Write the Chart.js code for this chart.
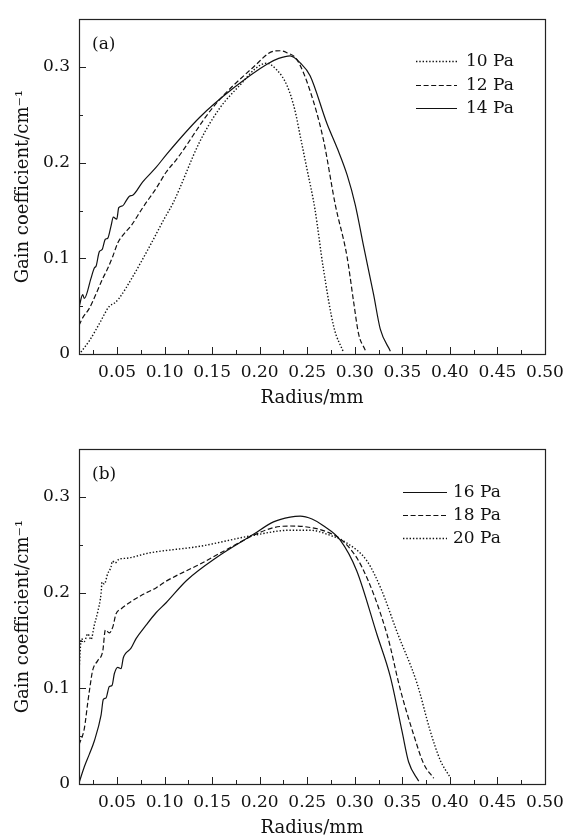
<!DOCTYPE html>
<html><head><meta charset="utf-8">
<script src="https://cdn.jsdelivr.net/npm/chart.js@4"></script>
<style>
html,body{margin:0;padding:0;background:#fff;width:579px;height:839px;overflow:hidden;}
.box{position:absolute;left:0;width:579px;height:410px;}
canvas{display:block;}
</style></head><body>
<div class="box" style="top:0"><canvas id="ca" width="579" height="410"></canvas></div>
<div class="box" style="top:430px"><canvas id="cb" width="579" height="410"></canvas></div>
<script>
// ---- Data ----
const radius10 = [0.012,0.021,0.031,0.042,0.047,0.052,0.066,0.084,0.100,0.109,0.137,0.158,0.181,0.195,0.207,0.218,0.229,0.237,0.243,0.250,0.258,0.267,0.278,0.288];
const gain10   = [0.002,0.014,0.031,0.050,0.053,0.058,0.080,0.112,0.142,0.158,0.222,0.257,0.283,0.298,0.304,0.297,0.280,0.255,0.226,0.192,0.152,0.089,0.028,0.002];

const radius12 = [0.010,0.014,0.021,0.028,0.035,0.040,0.0455,0.0507,0.056,0.0647,0.077,0.091,0.1016,0.113,0.151,0.1935,0.2145,0.222,0.2286,0.239,0.253,0.267,0.2795,0.2918,0.2987,0.304,0.311];
const gain12   = [0.030,0.038,0.048,0.063,0.079,0.089,0.102,0.116,0.124,0.134,0.153,0.173,0.190,0.204,0.258,0.300,0.3165,0.317,0.315,0.308,0.275,0.224,0.156,0.102,0.055,0.021,0.004];

const radius14 = [0.0103,0.0139,0.0156,0.0226,0.0261,0.028,0.0314,0.0342,0.0377,0.0402,0.0437,0.0461,0.0497,0.0518,0.056,0.0595,0.063,0.0665,0.077,0.091,0.1023,0.137,0.1724,0.2076,0.22,0.232,0.243,0.253,0.2707,0.282,0.292,0.3005,0.3093,0.3198,0.3268,0.3374];
const gain14   = [0.050,0.062,0.058,0.079,0.090,0.092,0.107,0.109,0.120,0.121,0.134,0.143,0.141,0.153,0.155,0.160,0.165,0.166,0.180,0.195,0.209,0.2475,0.278,0.303,0.309,0.3117,0.304,0.291,0.241,0.214,0.187,0.156,0.1125,0.062,0.026,0.003];

const radius16 = [0.010,0.0156,0.0208,0.0261,0.0332,0.0356,0.0384,0.0419,0.0447,0.0472,0.0507,0.0542,0.0566,0.0595,0.0647,0.070,0.0805,0.091,0.1016,0.1234,0.155,0.1935,0.2145,0.232,0.2426,0.255,0.267,0.2847,0.302,0.3234,0.3374,0.3497,0.3566,0.3672];
const gain16   = [0.001,0.018,0.031,0.045,0.072,0.0885,0.090,0.102,0.103,0.1155,0.122,0.1205,0.132,0.137,0.142,0.152,0.166,0.179,0.1895,0.213,0.237,0.261,0.274,0.279,0.280,0.277,0.270,0.255,0.223,0.156,0.112,0.055,0.023,0.003];

const radius18 = [0.010,0.0156,0.0192,0.0216,0.0244,0.0297,0.035,0.0377,0.0419,0.0455,0.049,0.0542,0.063,0.077,0.091,0.1016,0.1374,0.1724,0.1935,0.2145,0.232,0.2497,0.2707,0.288,0.3076,0.334,0.3479,0.3619,0.3724,0.383];
const gain18   = [0.041,0.058,0.085,0.102,0.119,0.129,0.139,0.161,0.158,0.164,0.178,0.183,0.1895,0.198,0.205,0.212,0.230,0.249,0.260,0.268,0.2697,0.2687,0.2636,0.2535,0.2266,0.156,0.0986,0.0515,0.0212,0.006];

const radius20 = [0.010,0.0125,0.0156,0.0192,0.0226,0.0261,0.0297,0.0332,0.0342,0.0366,0.0402,0.0437,0.045,0.048,0.052,0.060,0.0847,0.137,0.1935,0.232,0.253,0.274,0.2918,0.3127,0.328,0.3444,0.3655,0.3795,0.390,0.3998];
const gain20   = [0.118,0.152,0.149,0.157,0.151,0.166,0.180,0.199,0.211,0.209,0.220,0.227,0.233,0.231,0.235,0.236,0.2417,0.2485,0.260,0.2653,0.2653,0.260,0.2518,0.2333,0.203,0.159,0.105,0.0548,0.0245,0.0077];

const xMajorTicks = [0.05,0.10,0.15,0.20,0.25,0.30,0.35,0.40,0.45,0.50];
const xMinorTicks = [0.025,0.075,0.125,0.175,0.225,0.275,0.325,0.375,0.425,0.475];
const yMajorTicks = [0.1,0.2,0.3];
const yMinorTicks = [0.05,0.15,0.25];

const xTitle = 'Radius/mm';
const yTitle = 'Gain coefficient/cm\u207B\u00B9';

// ---- Styles ----
const FONT = '"DejaVu Serif", "Liberation Serif", serif';
const INK = '#111';
const DOT = [1.4, 1.9];
const DASH = [5, 2.6];

function pts(xs, ys) { return xs.map((x, i) => ({x, y: ys[i]})); }
function ds(label, xs, ys, dash) {
  return { label, data: pts(xs, ys), borderColor: INK, borderWidth: dash === DOT ? 1.4 : 1.2, borderDash: dash,
           pointRadius: 0, cubicInterpolationMode: 'monotone', fill: false };
}

const decor = {
  id: 'decor',
  afterDatasetsDraw(chart, args, opts) {
    const {ctx, chartArea: a, scales: {x, y}} = chart;
    ctx.save();
    ctx.setLineDash([]);
    ctx.strokeStyle = '#222';
    ctx.lineWidth = 1;
    const seg = (x0, y0, x1, y1) => { ctx.beginPath(); ctx.moveTo(x0, y0); ctx.lineTo(x1, y1); ctx.stroke(); };
    xMajorTicks.forEach(v => { const p = Math.round(x.getPixelForValue(v)) + 0.5; seg(p, a.bottom, p, a.bottom - 7); });
    xMinorTicks.forEach(v => { const p = Math.round(x.getPixelForValue(v)) + 0.5; seg(p, a.bottom, p, a.bottom - 4); });
    yMajorTicks.forEach(v => { const p = Math.round(y.getPixelForValue(v)) + 0.5; seg(a.left, p, a.left + 7, p); });
    yMinorTicks.forEach(v => { const p = Math.round(y.getPixelForValue(v)) + 0.5; seg(a.left, p, a.left + 4, p); });
    ctx.lineWidth = 1.2;
    ctx.strokeRect(Math.round(a.left) + 0.5, Math.round(a.top) + 0.5, Math.round(a.right - a.left), Math.round(a.bottom - a.top));
    // panel label
    ctx.fillStyle = INK;
    ctx.font = '17px ' + FONT;
    ctx.textAlign = 'left';
    ctx.textBaseline = 'middle';
    ctx.fillText(opts.panel, a.left + 13, a.top + 25);
    // legend
    const L = opts.legend;
    chart.data.datasets.forEach((d, i) => {
      const yy = Math.round(a.top + L.top + i * L.gap) + 0.5;
      ctx.setLineDash(d.borderDash || []);
      ctx.lineWidth = d.borderWidth;
      ctx.strokeStyle = INK;
      seg(a.right + L.x0, yy, a.right + L.x1, yy);
      ctx.setLineDash([]);
      ctx.fillText(d.label, a.right + L.tx, yy);
    });
    ctx.restore();
  }
};

function makeChart(id, datasets, panel, legend) {
  return new Chart(document.getElementById(id), {
    type: 'line',
    data: { datasets },
    plugins: [decor],
    options: {
      responsive: false,
      animation: false,
      devicePixelRatio: 1,
      layout: { padding: { left: 0, top: 8, right: 34, bottom: 0 } },
      plugins: {
        legend: { display: false },
        tooltip: { enabled: false },
        decor: { panel, legend }
      },
      scales: {
        x: {
          type: 'linear', min: 0.01, max: 0.5,
          grid: { display: false, drawTicks: false },
          border: { display: false },
          ticks: { stepSize: 0.05, includeBounds: false, autoSkip: false, maxRotation: 0, padding: 8,
                   color: INK, font: { family: FONT, size: 17 },
                   callback: v => Number(v).toFixed(2) },
          title: { display: true, text: xTitle, color: INK, font: { family: FONT, size: 18 },
                   padding: { top: 0, bottom: 1 } },
          afterFit: s => { s.height = 56; }
        },
        y: {
          type: 'linear', min: 0, max: 0.35,
          grid: { display: false, drawTicks: false },
          border: { display: false },
          ticks: { stepSize: 0.1, includeBounds: false, padding: 9,
                   color: INK, font: { family: FONT, size: 17 },
                   callback: v => (Math.abs(v) < 1e-9 ? '0' : Number(v).toFixed(1)) },
          title: { display: true, text: yTitle, color: INK, font: { family: FONT, size: 18 },
                   padding: { top: 13, bottom: 0 } },
          afterFit: s => { s.width = 79; }
        }
      }
    }
  });
}

makeChart('ca', [
  ds('10 Pa', radius10, gain10, DOT),
  ds('12 Pa', radius12, gain12, DASH),
  ds('14 Pa', radius14, gain14, [])
], '(a)', { top: 42, gap: 23.5, x0: -129, x1: -88, tx: -79 });

makeChart('cb', [
  ds('16 Pa', radius16, gain16, []),
  ds('18 Pa', radius18, gain18, DASH),
  ds('20 Pa', radius20, gain20, DOT)
], '(b)', { top: 43, gap: 23, x0: -142, x1: -98, tx: -92 });
</script>
</body></html>
